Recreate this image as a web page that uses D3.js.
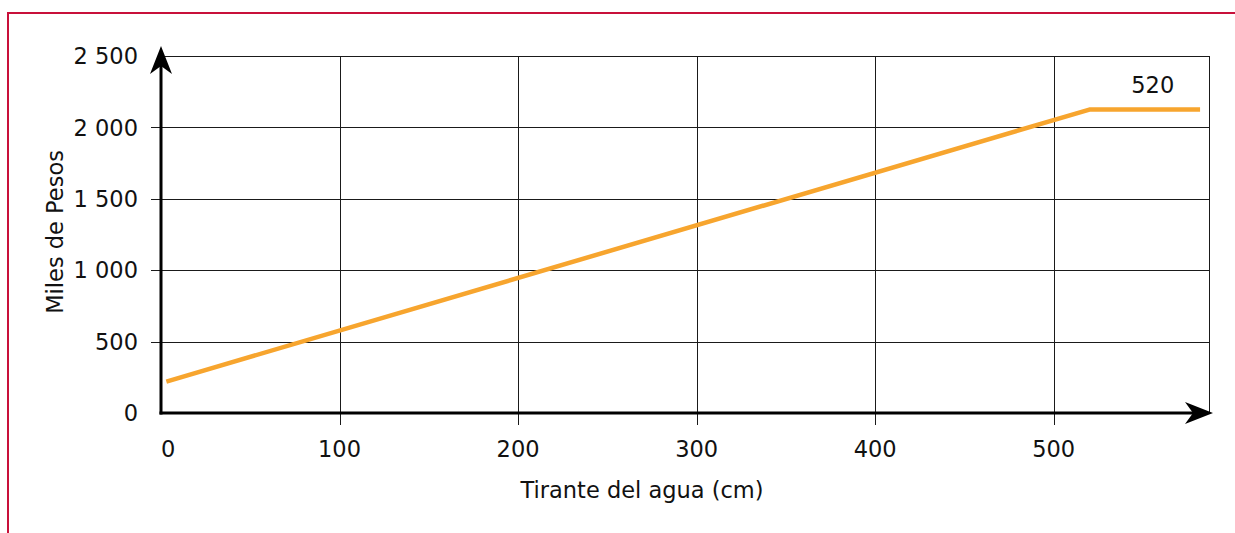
<!DOCTYPE html>
<html lang="es">
<head>
    <meta charset="UTF-8">
    <title>Tirante del agua</title>
    <script src="https://d3js.org/d3.v7.min.js"></script>
    <style>
        body { margin: 0; background: #fff; }
        svg { display: block; }
        text {
            font-family: "DejaVu Sans", sans-serif;
            font-size: 22.5px;
            fill: #111;
        }
        .grid line { stroke: #1a1a1a; stroke-width: 1; }
        .axis { stroke: #000; stroke-width: 3; fill: none; }
        .costo { fill: none; stroke: #f7a52e; stroke-width: 4.5; stroke-linejoin: round; }
        .marco { fill: none; stroke: #c8103a; stroke-width: 2; }
    </style>
</head>
<body>
<script>
    const width = 1235;
    const height = 533;

    // datos
    const tirante = [3, 520, 582];          // cm
    const miles   = [220, 2125, 2125];      // miles de pesos
    const xTicks  = [100, 200, 300, 400, 500];
    const yTicks  = [500, 1000, 1500, 2000];
    const yLabels = [0, 500, 1000, 1500, 2000, 2500];
    const etiqueta = "520";

    const svg = d3.select("body").append("svg")
        .attr("width", width).attr("height", height);

    const x = d3.scaleLinear().domain([0, 587]).range([161, 1209]);
    const y = d3.scaleLinear().domain([0, 2500]).range([413, 56]);

    const fmt = d3.formatLocale({decimal: ".", thousands: " ", grouping: [3], currency: ["", ""]}).format(",");

    // marco rojo
    svg.append("rect").attr("class", "marco")
        .attr("x", 8).attr("y", 13).attr("width", width + 20).attr("height", height + 20);

    const x0 = x(0), x1 = x.range()[1], y0 = y(0), y1 = y(2500);

    // cuadricula
    const grid = svg.append("g").attr("class", "grid");
    grid.selectAll("line.h").data(yTicks).enter().append("line")
        .attr("x1", x0 - 10).attr("x2", x1)
        .attr("y1", d => Math.round(y(d)) + .5).attr("y2", d => Math.round(y(d)) + .5);
    grid.selectAll("line.v").data(xTicks).enter().append("line")
        .attr("x1", d => Math.round(x(d)) + .5).attr("x2", d => Math.round(x(d)) + .5)
        .attr("y1", y1).attr("y2", y0 + 12);
    // borde superior y derecho
    grid.append("line").attr("x1", x0).attr("x2", x1 + .5)
        .attr("y1", Math.round(y1) + .5).attr("y2", Math.round(y1) + .5);
    grid.append("line").attr("x1", Math.round(x1) + .5).attr("x2", Math.round(x1) + .5)
        .attr("y1", y1).attr("y2", y0);

    // linea de costo
    const line = d3.line().x(d => x(d[0])).y(d => y(d[1]));
    svg.append("path").attr("class", "costo")
        .attr("d", line(d3.zip(tirante, miles)));

    // ejes con flechas
    svg.append("line").attr("class", "axis")
        .attr("x1", x0).attr("x2", x0).attr("y1", y0 + 1.5).attr("y2", 62);
    svg.append("line").attr("class", "axis")
        .attr("x1", x0 - 1.5).attr("x2", 1198).attr("y1", y0).attr("y2", y0);
    svg.append("path")
        .attr("d", `M${x0},46 L${x0 - 11},74 L${x0},66 L${x0 + 11},74 Z`)
        .attr("fill", "#000");
    svg.append("path")
        .attr("d", `M1213,${y0} L1185,${y0 - 11} L1193,${y0} L1185,${y0 + 11} Z`)
        .attr("fill", "#000");

    // etiquetas eje y
    svg.selectAll("text.ylab").data(yLabels).enter().append("text")
        .attr("class", "ylab")
        .attr("x", 138).attr("y", d => y(d))
        .attr("dy", "0.36em")
        .attr("text-anchor", "end")
        .text(d => fmt(d));

    // etiquetas eje x
    svg.append("text").attr("x", x0).attr("y", 457).attr("text-anchor", "start").text("0");
    svg.selectAll("text.xlab").data(xTicks).enter().append("text")
        .attr("class", "xlab")
        .attr("x", d => x(d)).attr("y", 457)
        .attr("text-anchor", "middle")
        .text(d => d);

    // titulos
    svg.append("text").attr("x", 642).attr("y", 498)
        .attr("text-anchor", "middle").text("Tirante del agua (cm)");
    svg.append("text")
        .attr("transform", "translate(63,232) rotate(-90)")
        .attr("text-anchor", "middle").text("Miles de Pesos");

    // etiqueta del tramo horizontal
    svg.append("text")
        .attr("x", (x(tirante[1]) + x(tirante[2])) / 2 + 8)
        .attr("y", y(miles[2]) - 17)
        .attr("text-anchor", "middle")
        .text(etiqueta);
</script>
</body>
</html>
